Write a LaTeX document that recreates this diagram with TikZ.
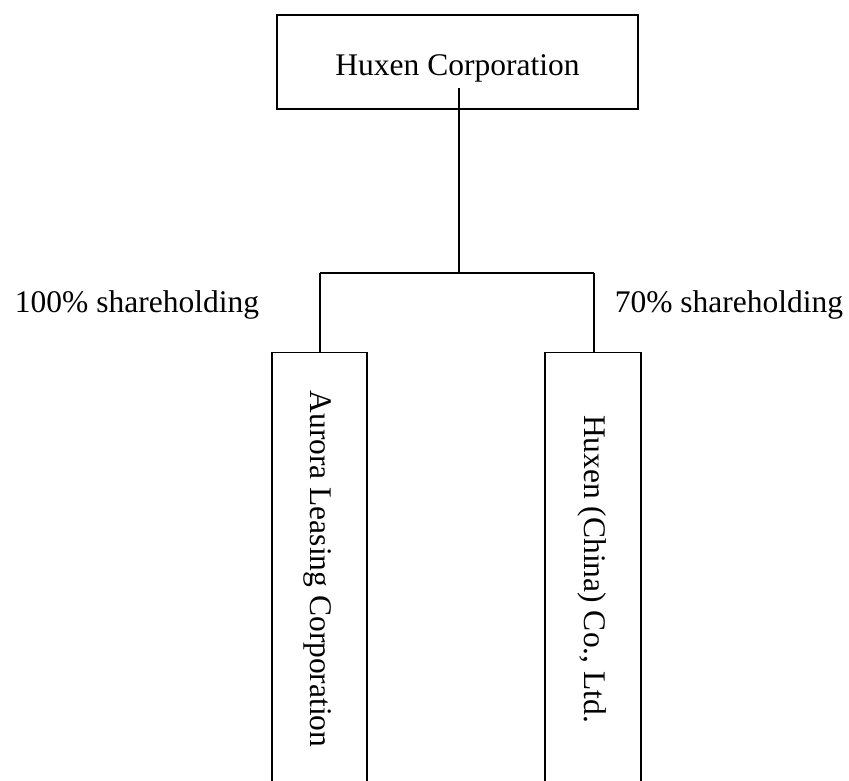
\documentclass[tikz,border=0pt]{standalone}
\usepackage{fontspec}
\setmainfont{Liberation Serif}
\begin{document}
\begin{tikzpicture}[x=1pt,y=-1pt,
  every node/.style={font=\fontsize{31.5}{36}\selectfont, inner sep=0pt},
  link/.style={line width=1.4pt},
  boxline/.style={draw, line width=1.4pt}]
\useasboundingbox (0,0) rectangle (849,780);
\clip (0,0) rectangle (849,780);
% top box
\node[boxline, minimum width=361pt, minimum height=94pt] (top) at (457.5,62) {};
\node[anchor=base] (toptext) at (457.5,75) {Huxen Corporation};
% subsidiary boxes
\node[boxline, minimum width=95pt, minimum height=440pt, anchor=north] (left) at (319.5,352) {};
\node[rotate=-90] (lefttext) at (318,569) {Aurora Leasing Corporation};
\node[boxline, minimum width=96pt, minimum height=440pt, anchor=north] (right) at (593,352) {};
\node[rotate=-90] (righttext) at (592.5,569) {Huxen (China) Co., Ltd.};
% connectors
\coordinate (stem) at (459,88);
\coordinate (junction) at (459,273);
\coordinate (jl) at (320,273);
\coordinate (jr) at (594,273);
\draw[link] (stem) -- (junction);
\draw[link] (jl) -- (jr);
\draw[link] (jl) -- (jl |- left.north);
\draw[link] (jr) -- (jr |- right.north);
% labels
\node[anchor=base] (lbl) at (137,312) {100\% shareholding};
\node[anchor=base] (lbr) at (729,312) {70\% shareholding};
\end{tikzpicture}
\end{document}
